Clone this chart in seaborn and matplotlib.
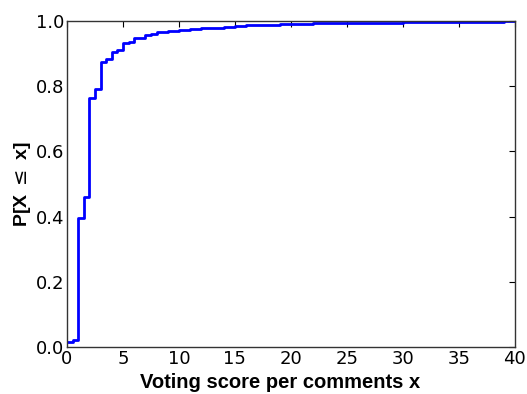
import pandas as pd
import seaborn as sns
import matplotlib
matplotlib.use("Agg")
import matplotlib.pyplot as plt

# puntos de la ECDF (escalones)
score = [0, 0.5, 1, 1.5, 2, 2.5, 3, 3.5, 4, 4.5, 5, 5.5, 6, 6.5, 7, 7.5,
         8, 9, 10, 11, 12, 13, 14, 15, 16, 17, 18, 19, 20, 21, 22, 23, 24,
         25, 26, 27, 28, 29, 30, 31, 32, 33, 34, 35, 36, 37, 38, 39, 40]
prob = [0.016, 0.022, 0.396, 0.460, 0.764, 0.790, 0.875, 0.883, 0.906, 0.912,
        0.931, 0.935, 0.947, 0.949, 0.958, 0.960, 0.965, 0.969, 0.972, 0.975,
        0.977, 0.979, 0.982, 0.984, 0.986, 0.987, 0.988, 0.989, 0.990, 0.991,
        0.992, 0.992, 0.993, 0.994, 0.994, 0.995, 0.995, 0.995, 0.996, 0.996,
        0.996, 0.997, 0.997, 0.997, 0.998, 0.998, 0.998, 0.999, 0.999]

df = pd.DataFrame({"score": score, "prob": prob})

sns.set_style("white")
plt.rcParams["font.family"] = ["DejaVu Sans"]
plt.rcParams["xtick.direction"] = "in"
plt.rcParams["ytick.direction"] = "in"
plt.rcParams["xtick.top"] = True
plt.rcParams["ytick.right"] = True
plt.rcParams["text.color"] = "black"
plt.rcParams["axes.labelcolor"] = "black"
plt.rcParams["xtick.color"] = "black"
plt.rcParams["ytick.color"] = "black"

fig = plt.figure(figsize=(5.27, 3.94), dpi=100)
ax = fig.add_axes([0.127, 0.119, 0.850, 0.828])

sns.lineplot(data=df, x="score", y="prob", drawstyle="steps-post",
             color="#0000ff", linewidth=2, ax=ax)

ax.set_xlim(0, 40)
ax.set_ylim(0, 1.0)
ax.set_xticks(range(0, 41, 5))
ax.set_yticks([0.0, 0.2, 0.4, 0.6, 0.8, 1.0])
ax.set_yticklabels(["0.0", "0.2", "0.4", "0.6", "0.8", "1.0"])
ax.tick_params(labelsize=13, length=4, width=0.8, pad=2)
for s in ax.spines.values():
    s.set_color("#333333")
    s.set_linewidth(1.0)

ax.set_xlabel("Voting score per comments x", fontsize=14.5, fontweight="bold",
              family=["Liberation Sans", "DejaVu Sans"], labelpad=4)
ax.xaxis.label.set_x(0.475)  # en el original la etiqueta esta algo a la izquierda
ax.set_ylabel(r"P[X $\leq$ x]", fontsize=14, fontweight="bold",
              family=["Liberation Sans", "DejaVu Sans"], labelpad=2)

fig.savefig("out.png", dpi=100)
